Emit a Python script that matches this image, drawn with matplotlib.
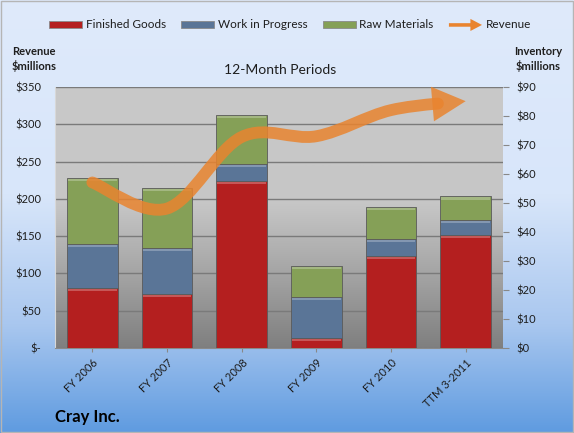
import numpy as np
import matplotlib
matplotlib.use("Agg")
import matplotlib.pyplot as plt
import matplotlib.patches as mpatches
from matplotlib.path import Path
from matplotlib.colors import LinearSegmentedColormap
from matplotlib.legend_handler import HandlerPatch

plt.rcParams['font.family'] = ['Lato', 'DejaVu Sans']

# Data (inventory in $ millions on the right axis, revenue on the left axis)
periods = ['FY 2006', 'FY 2007', 'FY 2008', 'FY 2009', 'FY 2010', 'TTM 3-2011']
finished_goods = [20.7, 18.6, 57.6, 3.4, 31.7, 39.0]
work_in_progress = [15.2, 15.9, 5.8, 14.2, 5.9, 5.1]
raw_materials = [22.7, 20.7, 16.9, 10.7, 11.0, 8.2]
revenue = [222, 187, 283, 284, 319, 331]

rev_ticks = [0, 50, 100, 150, 200, 250, 300, 350]
rev_labels = ['$-', '$50', '$100', '$150', '$200', '$250', '$300', '$350']
inv_ticks = [0, 10, 20, 30, 40, 50, 60, 70, 80, 90]
inv_labels = ['$%d' % v for v in inv_ticks]

red, blue, green = '#b41f1f', '#5a7597', '#85a057'
orange = '#e9842f'
text_col = '#1e1e1e'

fig = plt.figure(figsize=(5.74, 4.33), dpi=100)

# figure background gradient
bg = fig.add_axes([0, 0, 1, 1], zorder=-10)
fig_cmap = LinearSegmentedColormap.from_list(
    'figbg', [(0, '#dfeafb'), (0.45, '#d8e6fa'), (0.75, '#a9c7ef'), (1, '#5f9be0')])
bg.imshow(np.linspace(0, 1, 256).reshape(-1, 1), cmap=fig_cmap, aspect='auto',
          extent=[0, 1, 0, 1])
bg.axis('off')
bg.add_patch(mpatches.Rectangle((0.002, 0.003), 0.996, 0.994, fill=False,
                                edgecolor='#b5b5b5', lw=1, transform=bg.transAxes))

rect = [55 / 574, 85 / 433, 448 / 574, 261 / 433]

# plot area gradient
pbg = fig.add_axes(rect, zorder=-5)
plot_cmap = LinearSegmentedColormap.from_list(
    'plotbg', [(0, '#c9c9c9'), (0.45, '#c6c6c6'), (0.75, '#a0a0a0'), (1, '#7f7f7f')])
pbg.imshow(np.linspace(0, 1, 256).reshape(-1, 1), cmap=plot_cmap, aspect='auto',
           extent=[0, 1, 0, 1])
pbg.axis('off')

# revenue scale axis: left ticks + grid
ax = fig.add_axes(rect)
ax.patch.set_visible(False)
ax.set_ylim(0, 350)
ax.set_yticks(rev_ticks)
ax.set_yticklabels(rev_labels)
ax.grid(axis='y', color='#7a7a7a', lw=1)
ax.set_axisbelow(True)
ax.tick_params(axis='y', length=0, labelsize=8, labelcolor=text_col, pad=10)
x = np.arange(len(periods))
ax.set_xlim(-0.5, len(periods) - 0.5)
ax.set_xticks(x)
ax.set_xticklabels(periods, rotation=45, ha='right', rotation_mode='anchor')
ax.tick_params(axis='x', length=3, color='#888888', labelsize=8, labelcolor=text_col)
for s in ['top', 'right']:
    ax.spines[s].set_visible(False)
ax.spines['left'].set_color('#d8d8d8')
ax.spines['bottom'].set_color('#8a8a8a')

# inventory axis: stacked bars, right ticks
axb = ax.twinx()
axb.set_ylim(0, 90)
axb.set_yticks(inv_ticks)
axb.set_yticklabels(inv_labels)
axb.tick_params(axis='y', length=4, color='#888888', labelsize=8, labelcolor=text_col, pad=6)
for s in axb.spines.values():
    s.set_visible(False)

width = 0.68
bottom = np.zeros(len(periods))
for vals, col in [(finished_goods, red), (work_in_progress, blue), (raw_materials, green)]:
    vals = np.array(vals)
    axb.bar(x, vals, width, bottom=bottom, color=col, edgecolor='#5a5a5a', lw=0.6)
    # light bevel strip on top of each segment
    hl = np.minimum(vals * 0.3, 0.9)
    axb.bar(x, hl, width * 0.96, bottom=bottom + vals - hl - 0.25, color='white',
            alpha=0.25, lw=0)
    bottom = bottom + vals

# revenue line on its own axis (above bars)
axl = ax.twinx()
axl.set_ylim(0, 350)
axl.axis('off')

pts = np.column_stack([x, revenue]).astype(float)
n = len(pts)
verts = [pts[0]]
codes = [Path.MOVETO]
for i in range(n - 1):
    p0 = pts[max(i - 1, 0)]
    p1 = pts[i]
    p2 = pts[i + 1]
    p3 = pts[min(i + 2, n - 1)]
    c1 = p1 + (p2 - p0) / 6
    c2 = p2 - (p3 - p1) / 6
    if i == n - 2:
        # shorten last segment so the arrow head takes over
        t = 0.56
        a = p1 + (c1 - p1) * t
        b = c1 + (c2 - c1) * t
        c = c2 + (p2 - c2) * t
        ab = a + (b - a) * t
        bc = b + (c - b) * t
        end = ab + (bc - ab) * t
        verts += [a, ab, end]
    else:
        verts += [c1, c2, p2]
    codes += [Path.CURVE4] * 3
axl.add_patch(mpatches.PathPatch(Path(verts, codes), fill=False, edgecolor=orange,
                                 lw=8.5, alpha=0.85, capstyle='round'))
axl.annotate('', xy=pts[-1], xytext=end,
             arrowprops=dict(arrowstyle='-|>,head_length=2.4,head_width=1.25',
                             mutation_scale=10, lw=0, color=orange, alpha=0.85,
                             shrinkA=0, shrinkB=0))

# legend
def make_arrow(legend, orig_handle, xdescent, ydescent, width, height, fontsize):
    return mpatches.FancyArrow(0, height / 2, width, 0, width=height * 0.5,
                               head_width=height * 1.7, head_length=width * 0.35,
                               length_includes_head=True)

handles = [mpatches.Patch(facecolor=red, edgecolor='#8a8a8a', lw=0.6),
           mpatches.Patch(facecolor=blue, edgecolor='#8a8a8a', lw=0.6),
           mpatches.Patch(facecolor=green, edgecolor='#8a8a8a', lw=0.6),
           mpatches.FancyArrow(0, 0, 1, 0, facecolor=orange, edgecolor=orange, lw=0)]
fig.legend(handles, ['Finished Goods', 'Work in Progress', 'Raw Materials', 'Revenue'],
           loc='center', bbox_to_anchor=(290 / 574, 1 - 25 / 433), ncol=4, frameon=False,
           fontsize=8.5, handlelength=2.8, handleheight=0.55, handletextpad=0.3,
           columnspacing=1.3, labelcolor=text_col,
           handler_map={mpatches.FancyArrow: HandlerPatch(patch_func=make_arrow)})

fig.text(34 / 574, 1 - 59 / 433, 'Revenue\n$millions', ha='center', va='center',
         fontsize=8, fontweight='bold', color=text_col, linespacing=1.3)
fig.text(538 / 574, 1 - 59 / 433, 'Inventory\n$millions', ha='center', va='center',
         fontsize=8, fontweight='bold', color=text_col, linespacing=1.3)
fig.text(280 / 574, 1 - 70 / 433, '12-Month Periods', ha='center', va='center',
         fontsize=10, color=text_col)
fig.text(55 / 574, 1 - 417 / 433, 'Cray Inc.', ha='left', va='center',
         fontsize=12, fontweight='bold', color='black')

fig.savefig('out.png', dpi=100)
